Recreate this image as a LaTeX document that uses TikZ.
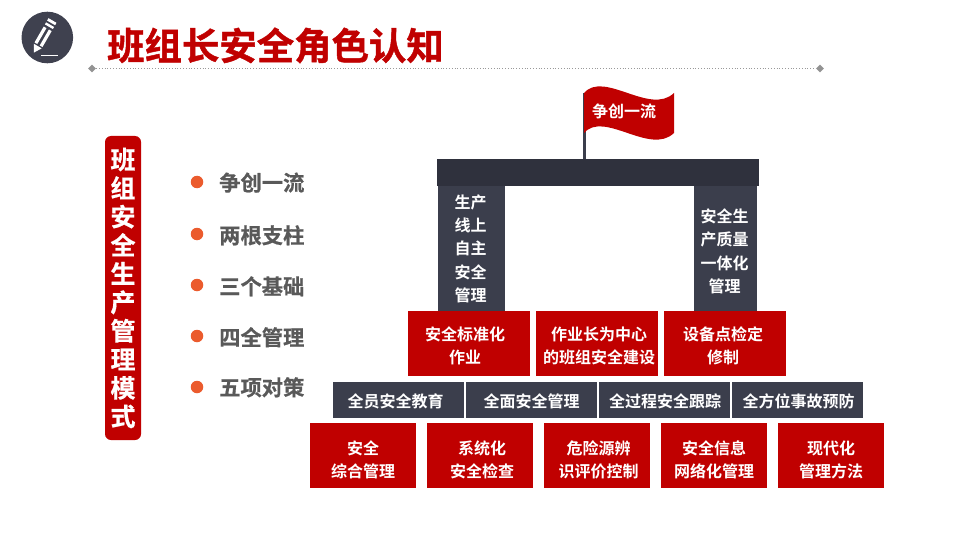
\documentclass[tikz,border=0pt]{standalone}
\usepackage{fontspec}
\setmainfont{Noto Sans CJK SC}[BoldFont={Noto Sans CJK SC Bold}]
\newfontfamily\heavyfont{Noto Sans CJK SC Bold}[FakeBold=1.2]
\newfontfamily\midheavyfont{Noto Sans CJK SC Bold}[FakeBold=0.6]
\usetikzlibrary{shapes.geometric}
\definecolor{brand}{HTML}{C00000}
\definecolor{slatebox}{HTML}{3B3E4C}
\definecolor{beamcol}{HTML}{2F313D}
\definecolor{greytext}{HTML}{595959}
\definecolor{bullet}{HTML}{EB5B2D}
\definecolor{iconbg}{HTML}{3F414F}
\tikzset{
  x=1pt,y=-1pt,
  panel/.style={anchor=north west,inner sep=0,outer sep=0},
  redbox/.style={panel,fill=brand},
  darkbox/.style={panel,fill=slatebox},
  boxtext/.style={inner sep=0,align=center,text=white,font=\bfseries\fontsize{16}{23.4}\selectfont},
  listitem/.style={anchor=west,inner sep=0,text=greytext,font=\midheavyfont\fontsize{21.3}{24}\selectfont},
  dot/.style={circle,fill=bullet,inner sep=0,minimum size=12.5pt},
  endmark/.style={diamond,fill=gray!85,inner sep=0,minimum size=8pt}
}
% style, x0, y0, x1, y1, name, text, text offset x, text offset down
\newcommand{\tbox}[9]{%
  \node[#1,minimum width=#4pt-#2pt,minimum height=#5pt-#3pt] (#6) at (#2,#3) {};
  \node[boxtext,xshift=#8pt,yshift=-#9pt] (#6t) at (#6.center) {#7};}
\begin{document}
\begin{tikzpicture}
\useasboundingbox (0,0) rectangle (960,540);
% icon
\fill[iconbg] (47.3,37.5) circle (25.8);
\begin{scope}[shift={(52.5,20.5)},rotate=240]
  \fill[white] (0,-4.6) rectangle (2.8,4.6);
  \fill[white] (4.8,-4.6) rectangle (7.2,4.6);
  \fill[white] (9.6,-4.6) rectangle (28,-1.4);
  \fill[white] (9.6,1.4) rectangle (28,4.6);
  \fill[white] (29.5,-4.6) -- (29.5,4.6) -- (37,0) -- cycle;
\end{scope}
\fill[white] (41,54.6) rectangle (58,56);
% title
\node[anchor=west,inner sep=0,text=brand,font=\heavyfont\fontsize{37.4}{40}\selectfont] (title) at (107,45.5) {班组长安全角色认知};
\node[endmark] (ruleL) at (92,68.5) {};
\node[endmark] (ruleR) at (820,68.5) {};
\draw[gray!80,line width=.8pt,dotted] (ruleL) -- (ruleR);
% left bar
\node[panel,fill=brand,rounded corners=6pt,minimum width=36pt,minimum height=304pt] (bar) at (105,136) {};
\node[text=white,font=\midheavyfont\fontsize{25}{28.55}\selectfont,align=center,inner sep=0] (bartext) at (123,288) {班\\组\\安\\全\\生\\产\\管\\理\\模\\式};
% list
\node[dot] (d1) at (197,182) {}; \node[listitem] (t1) at (219,182.6) {争创一流};
\node[dot] (d2) at (197,234) {}; \node[listitem] (t2) at (219,235.3) {两根支柱};
\node[dot] (d3) at (197,285) {}; \node[listitem] (t3) at (219,286.3) {三个基础};
\node[dot] (d4) at (197,336) {}; \node[listitem] (t4) at (219,337.3) {四全管理};
\node[dot] (d5) at (197,387) {}; \node[listitem] (t5) at (219,387.3) {五项对策};
% flag
\fill[slatebox] (583,93) rectangle (586,160);
\fill[brand] (584,93)
  .. controls (604,70) and (650,116) .. (674,93)
  -- (674,133)
  .. controls (650,156) and (604,110) .. (584,133)
  -- cycle;
\node[text=white,inner sep=0,font=\bfseries\fontsize{16}{18}\selectfont] (flagtext) at (624,111) {争创一流};
% arch
\fill[beamcol] (437,159) rectangle (759,186);
\tbox{darkbox}{438}{186}{505}{311}{p1}{生产\\线上\\自主\\安全\\管理}{-1}{0.3}
\tbox{darkbox}{694}{186}{757}{311}{p2}{安全生\\产质量\\一体化\\管理}{-1}{3}
% red row 1
\tbox{redbox}{408}{311}{530}{376}{a1}{安全标准化\\作业}{-4}{2.5}
\tbox{redbox}{536}{311}{658}{376}{a2}{作业长为中心\\的班组安全建设}{2}{2.5}
\tbox{redbox}{664}{311}{786}{376}{a3}{设备点检定\\修制}{-2}{2.5}
% dark row
\tbox{darkbox}{333}{382}{464}{418}{b1}{全员安全教育}{-3}{1.5}
\tbox{darkbox}{466}{382}{597}{418}{b2}{全面安全管理}{0}{1.5}
\tbox{darkbox}{599}{382}{730}{418}{b3}{全过程安全跟踪}{0.5}{1.5}
\tbox{darkbox}{732}{382}{863}{418}{b4}{全方位事故预防}{1}{1.5}
% red row 2
\tbox{redbox}{310}{423}{416}{488}{c1}{安全\\综合管理}{0}{4.5}
\tbox{redbox}{427}{423}{533}{488}{c2}{系统化\\安全检查}{2}{4.5}
\tbox{redbox}{544}{423}{650}{488}{c3}{危险源辨\\识评价控制}{1.5}{4.5}
\tbox{redbox}{661}{423}{767}{488}{c4}{安全信息\\网络化管理}{0}{4.5}
\tbox{redbox}{778}{423}{884}{488}{c5}{现代化\\管理方法}{0}{4.5}
\end{tikzpicture}
\end{document}
